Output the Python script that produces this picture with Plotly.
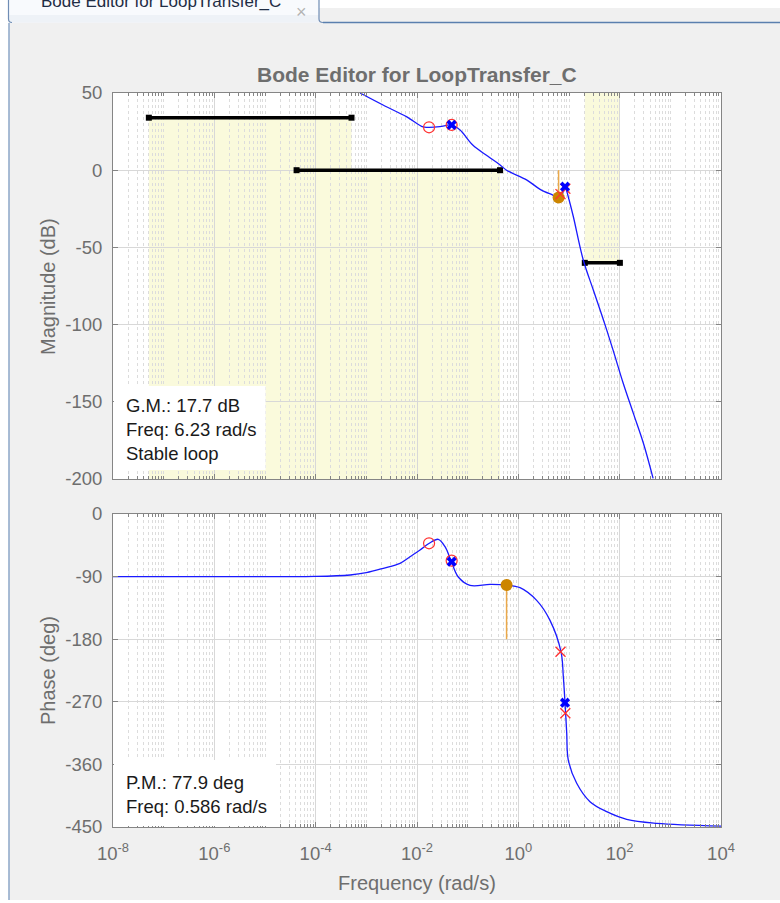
import numpy as np
import plotly.graph_objects as go

# ---------------- data ----------------
# open-loop magnitude (log10 of rad/s, dB)
mag_logw = [-3.125, -2.67, -2.2, -1.88, -1.76, -1.55, -1.32, -1.15, -0.9, -0.6, -0.36, -0.232,
            0.17, 0.43, 0.68, 0.794, 0.86, 0.9, 0.921, 0.95, 1.0, 1.085, 1.28, 1.48,
            1.68, 1.87, 2.07, 2.27, 2.47, 2.66]
mag_db = [50, 42.2, 34.5, 28.0, 27.8, 28.2, 29.3, 26.0, 16.3, 9.0, 3.4, 0.0,
          -6.4, -12.4, -16.1, -17.7, -15.8, -12.5, -10.7, -13.0, -19.0, -30.0, -58.0, -77.6,
          -97.0, -116.5, -138.0, -157.5, -177.0, -199.6]

# open-loop phase (log10 of rad/s, deg)
ph_logw = [-8, -6, -5, -4.0, -3.32, -3.0, -2.665, -2.336, -2.138, -1.94, -1.757, -1.58, -1.447,
           -1.329, -1.185, -0.954, -0.559, -0.232, 0.033, 0.362, 0.625, 0.842, 0.888,
           0.921, 0.955, 0.986, 1.152, 1.414, 1.744, 2.138, 2.731, 4]
ph_deg = [-90, -90, -90, -89.8, -87.7, -84.4, -78.1, -70.9, -61.4, -51.8, -42.1, -36.4, -47,
          -67.1, -90.6, -102.6, -101.2, -102.1, -105.9, -124.2, -152.9, -198, -233.9,
          -271.3, -315, -353.7, -387.2, -413.6, -428, -439, -444.7, -448.6]

# compensator zeros (red circles)
zero_w = [0.0173, 0.0483]
zero_mag = [27.8, 29.3]
zero_ph = [-42.1, -67.1]
# compensator poles (red x)
cpole_w = [6.8, 8.46]
cpole_mag = [-15.5, -12.0]
cpole_ph = [-198, -286.5]
# plant poles (blue x)
ppole_w = [0.0483, 8.34]
ppole_mag = [29.3, -10.7]
ppole_ph = [-68.6, -271.3]

# margins
gm_w, gm_db = 6.23, -17.7
pm_w, pm_deg = 0.586, -102.1

# design constraints (black bars): low freq, high freq, level dB, shade towards
bar_lo = [5.1e-8, 4.2e-5, 20.5]
bar_hi = [5.1e-4, 0.435, 101.0]
bar_db = [34.0, 0.0, -60.0]
bar_shade_to = [-200, -200, 50]

x_tickvals = [1e-8, 1e-6, 1e-4, 1e-2, 1e0, 1e2, 1e4]
x_ticktext = ["10<sup>-8</sup>", "10<sup>-6</sup>", "10<sup>-4</sup>", "10<sup>-2</sup>",
              "10<sup>0</sup>", "10<sup>2</sup>", "10<sup>4</sup>"]
mag_ticks = [-200, -150, -100, -50, 0, 50]
ph_ticks = [-450, -360, -270, -180, -90, 0]

gm_text = ["G.M.: 17.7 dB", "Freq: 6.23 rad/s", "Stable loop"]
pm_text = ["P.M.: 77.9 deg", "Freq: 0.586 rad/s"]

# ---------------- layout helpers ----------------
W, H = 780, 903
def px(x):
    return x / W
def py(y):
    return 1 - y / H

FONT = "Liberation Sans, Arial, sans-serif"
GRAY = "#6e6e6e"
AXC = "#858585"
CURVE = "#1a1aff"
ORANGE_DOT = "#cc8500"
ORANGE_LINE = "#eba94a"
SMOOTH = 1.0

minor_vals = []
for d in range(-8, 4):
    for k in range(1, 10):
        if k == 1 and d % 2 == 0:
            continue
        minor_vals.append(k * 10.0 ** d)

fig = go.Figure()

mag_w = 10 ** np.array(mag_logw)
ph_w = 10 ** np.array(ph_logw)

# bars
for lo, hi, v in zip(bar_lo, bar_hi, bar_db):
    fig.add_trace(go.Scatter(x=[lo, hi], y=[v, v], mode="lines+markers", xaxis="x", yaxis="y",
                             line=dict(color="black", width=3.5),
                             marker=dict(symbol="square", size=6, color="black"),
                             hoverinfo="skip", showlegend=False))

# GM line + curve
fig.add_trace(go.Scatter(x=[gm_w, gm_w], y=[0, gm_db], mode="lines", xaxis="x", yaxis="y",
                         line=dict(color=ORANGE_LINE, width=1.5), showlegend=False))
fig.add_trace(go.Scatter(x=mag_w, y=mag_db, mode="lines", xaxis="x", yaxis="y",
                         line=dict(color=CURVE, width=1.3, shape="spline", smoothing=SMOOTH),
                         showlegend=False))
fig.add_trace(go.Scatter(x=[gm_w], y=[gm_db], mode="markers", xaxis="x", yaxis="y",
                         marker=dict(color=ORANGE_DOT, size=12), showlegend=False))
fig.add_trace(go.Scatter(x=zero_w, y=zero_mag, mode="markers", xaxis="x", yaxis="y",
                         marker=dict(symbol="circle-open", size=11, color="#ff3030",
                                     line=dict(width=1.2)), showlegend=False))
fig.add_trace(go.Scatter(x=cpole_w, y=cpole_mag, mode="markers", xaxis="x", yaxis="y",
                         marker=dict(symbol="x-thin-open", size=10, color="#ff3030",
                                     line=dict(width=1.3, color="#ff3030")), showlegend=False))
fig.add_trace(go.Scatter(x=ppole_w, y=ppole_mag, mode="markers", xaxis="x", yaxis="y",
                         marker=dict(symbol="x", size=9, color="#0000ff", line=dict(width=0)),
                         showlegend=False))

# phase
fig.add_trace(go.Scatter(x=[pm_w, pm_w], y=[-180, pm_deg], mode="lines", xaxis="x2", yaxis="y2",
                         line=dict(color=ORANGE_LINE, width=1.5), showlegend=False))
fig.add_trace(go.Scatter(x=ph_w, y=ph_deg, mode="lines", xaxis="x2", yaxis="y2",
                         line=dict(color=CURVE, width=1.3, shape="spline", smoothing=SMOOTH),
                         showlegend=False))
fig.add_trace(go.Scatter(x=[pm_w], y=[pm_deg], mode="markers", xaxis="x2", yaxis="y2",
                         marker=dict(color=ORANGE_DOT, size=12), showlegend=False))
fig.add_trace(go.Scatter(x=zero_w, y=zero_ph, mode="markers", xaxis="x2", yaxis="y2",
                         marker=dict(symbol="circle-open", size=11, color="#ff3030",
                                     line=dict(width=1.2)), showlegend=False))
fig.add_trace(go.Scatter(x=cpole_w, y=cpole_ph, mode="markers", xaxis="x2", yaxis="y2",
                         marker=dict(symbol="x-thin-open", size=10, color="#ff3030",
                                     line=dict(width=1.3, color="#ff3030")), showlegend=False))
fig.add_trace(go.Scatter(x=ppole_w, y=ppole_ph, mode="markers", xaxis="x2", yaxis="y2",
                         marker=dict(symbol="x", size=9, color="#0000ff", line=dict(width=0)),
                         showlegend=False))

shapes = []
# yellow constraint regions
for lo, hi, v, to in zip(bar_lo, bar_hi, bar_db, bar_shade_to):
    shapes.append(dict(type="rect", xref="x", yref="y", x0=lo, x1=hi, y0=v, y1=to,
                       fillcolor="#fafadc", line=dict(width=0), layer="below"))
# window chrome
shapes += [
    dict(type="rect", xref="paper", yref="paper", x0=0, x1=1, y0=py(8), y1=1,
         fillcolor="white", line=dict(width=0), layer="below"),
    dict(type="rect", xref="paper", yref="paper", x0=0, x1=px(8.5), y0=0, y1=1,
         fillcolor="white", line=dict(width=0), layer="below"),
    dict(type="rect", xref="paper", yref="paper", x0=0, x1=1, y0=0, y1=py(900),
         fillcolor="white", line=dict(width=0), layer="below"),
    dict(type="rect", xref="paper", yref="paper", x0=px(320), x1=1, y0=py(22), y1=py(8),
         fillcolor="#f0f0f0", line=dict(width=0), layer="below"),
    dict(type="rect", xref="paper", yref="paper", x0=px(9), x1=px(319), y0=py(22.5), y1=1,
         fillcolor="#f8fafd", line=dict(width=0), layer="below"),
    dict(type="rect", xref="paper", yref="paper", x0=px(9), x1=px(319), y0=py(22.5), y1=py(15),
         fillcolor="#eef2f7", line=dict(width=0), layer="below"),
    dict(type="line", xref="paper", yref="paper", x0=px(323), x1=1, y0=py(22.5), y1=py(22.5),
         line=dict(color="#5a7fae", width=1.6)),
    dict(type="path", xref="paper", yref="paper",
         path="M %f %f L %f %f Q %f %f %f %f" % (px(319), 1.0, px(319), py(19), px(319), py(22.5),
                                                 px(323), py(22.5)),
         line=dict(color="#6f8db5", width=1.2)),
    dict(type="path", xref="paper", yref="paper",
         path="M %f %f L %f %f Q %f %f %f %f" % (px(8.5), 1.0, px(8.5), py(19), px(8.5), py(22.5),
                                                 px(12), py(22.5)),
         line=dict(color="#6f8db5", width=1.2)),
    dict(type="line", xref="paper", yref="paper", x0=px(9), x1=px(9), y0=py(900), y1=py(23),
         line=dict(color="#7d9bc2", width=1.3)),
    # text boxes
    dict(type="rect", xref="paper", yref="paper", x0=px(114), x1=px(265.5), y0=py(470), y1=py(386),
         fillcolor="white", line=dict(width=0), layer="above"),
    dict(type="rect", xref="paper", yref="paper", x0=px(114), x1=px(276), y0=py(826), y1=py(760),
         fillcolor="white", line=dict(width=0), layer="above"),
]

annotations = [
    dict(text="<b>Bode Editor for LoopTransfer_C</b>", x=px(417), y=py(75), xref="paper",
         yref="paper", showarrow=False, font=dict(family=FONT, size=21, color=GRAY),
         xanchor="center", yanchor="middle"),
    dict(text="Magnitude (dB)", x=px(48), y=py(287), xref="paper", yref="paper", textangle=-90,
         showarrow=False, font=dict(family=FONT, size=20, color=GRAY),
         xanchor="center", yanchor="middle"),
    dict(text="Phase (deg)", x=px(48), y=py(671), xref="paper", yref="paper", textangle=-90,
         showarrow=False, font=dict(family=FONT, size=20, color=GRAY),
         xanchor="center", yanchor="middle"),
    dict(text="Frequency (rad/s)", x=px(417), y=py(883), xref="paper", yref="paper",
         showarrow=False, font=dict(family=FONT, size=20, color=GRAY),
         xanchor="center", yanchor="middle"),
    dict(text="<br>".join(gm_text), x=px(124), y=py(429.5), xref="paper", yref="paper",
         showarrow=False, align="left", font=dict(family=FONT, size=18.5, color="#1a1a1a"),
         xanchor="left", yanchor="middle"),
    dict(text="<br>".join(pm_text), x=px(124), y=py(794.5), xref="paper", yref="paper",
         showarrow=False, align="left", font=dict(family=FONT, size=18.5, color="#1a1a1a"),
         xanchor="left", yanchor="middle"),
    dict(text="Bode Editor for LoopTransfer_C", x=px(39), y=py(13), xref="paper", yref="paper",
         showarrow=False, font=dict(family=FONT, size=17, color="#1f2d45"),
         xanchor="left", yanchor="bottom"),
    dict(text="\u00d7", x=px(301), y=py(12), xref="paper", yref="paper",
         showarrow=False, font=dict(family=FONT, size=18, color="#b4b4b4"),
         xanchor="center", yanchor="middle"),
]

xcommon = dict(type="log", range=[-8, 4], showline=True, linecolor=AXC, linewidth=1,
               mirror="allticks", ticks="inside", ticklen=5, tickcolor=AXC,
               tickmode="array", tickvals=x_tickvals, ticktext=x_ticktext,
               showgrid=True, gridcolor="#d8d8d8", gridwidth=1, zeroline=False,
               tickfont=dict(family=FONT, size=18.5, color=GRAY),
               minor=dict(tickmode="array", tickvals=minor_vals, ticks="inside", ticklen=3,
                          tickcolor=AXC, showgrid=True, gridcolor="#dcdcdc", griddash="dot",
                          gridwidth=1),
               automargin=False, fixedrange=True)
ycommon = dict(showline=True, linecolor=AXC, linewidth=1, mirror="allticks", ticks="inside",
               ticklen=5, tickcolor=AXC, tickmode="array", showgrid=True, gridcolor="#d8d8d8",
               zeroline=False, tickfont=dict(family=FONT, size=18.5, color=GRAY),
               automargin=False, ticklabelstandoff=6)

fig.update_layout(
    width=W, height=H, margin=dict(l=0, r=0, t=0, b=0),
    paper_bgcolor="#f0f0f0", plot_bgcolor="white",
    font=dict(family=FONT),
    xaxis=dict(**xcommon, domain=[px(113), px(721)], anchor="y", showticklabels=False),
    yaxis=dict(**ycommon, domain=[py(479), py(93)], anchor="x", range=[-200, 50],
               tickvals=mag_ticks, ticktext=[str(v) for v in mag_ticks]),
    xaxis2=dict(**xcommon, domain=[px(113), px(721)], anchor="y2", ticklabelstandoff=10),
    yaxis2=dict(**ycommon, domain=[py(827), py(514)], anchor="x2", range=[-450, 0],
                tickvals=ph_ticks, ticktext=[str(v) for v in ph_ticks]),
    shapes=shapes, annotations=annotations, showlegend=False,
)

fig.write_html("out.html")
